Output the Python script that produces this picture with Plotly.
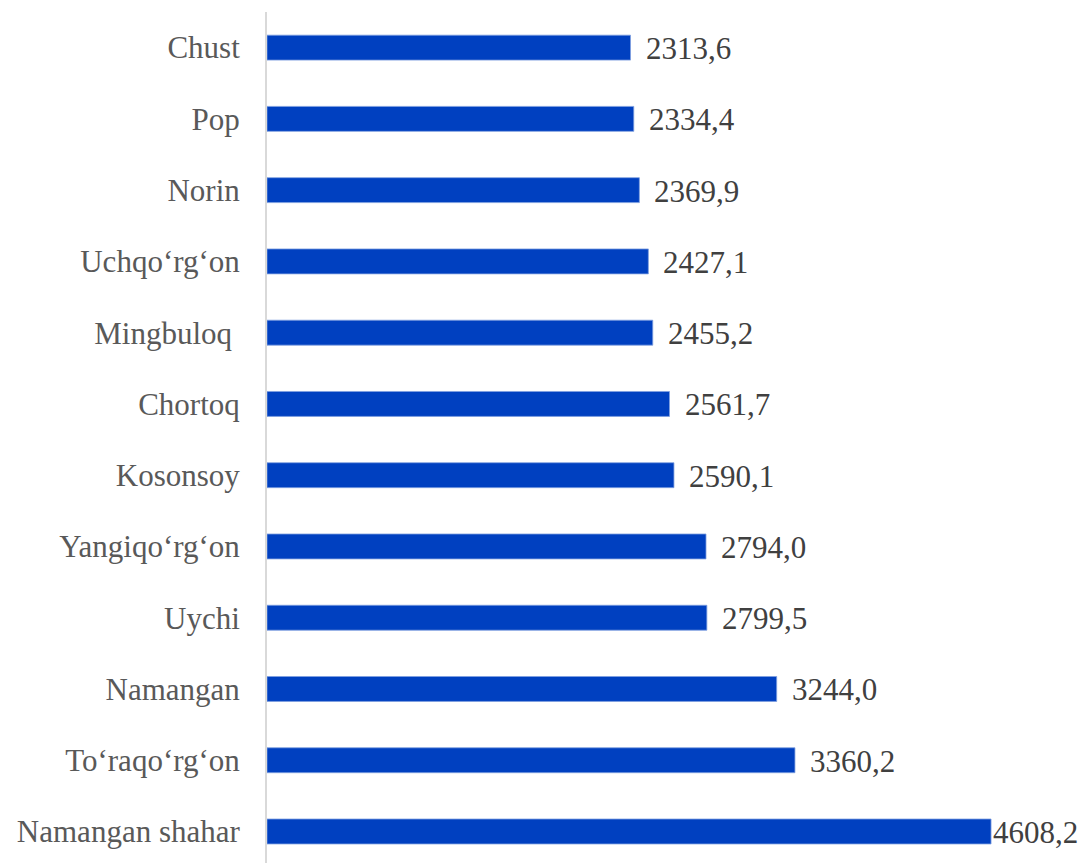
import plotly.graph_objects as go

categories = ["Namangan shahar", "To‘raqo‘rg‘on", "Namangan", "Uychi", "Yangiqo‘rg‘on",
              "Kosonsoy", "Chortoq", "Mingbuloq\u00a0", "Uchqo‘rg‘on", "Norin", "Pop", "Chust"]
values = [4608.2, 3360.2, 3244.0, 2799.5, 2794.0, 2590.1, 2561.7, 2455.2, 2427.1, 2369.9, 2334.4, 2313.6]
value_labels = [f"{v:.1f}".replace(".", ",") for v in values]

W, H = 1079, 863
ML, MR, MT, MB = 267, 0, 12, 0
xmax = 5168
px_per_unit = (W - ML - MR) / xmax
font_size = 31
label_w = 2.75 * font_size

fig = go.Figure()
fig.add_trace(go.Bar(
    y=list(range(len(categories))), x=values, orientation="h",
    marker=dict(color="#0040C0", line=dict(color="#7F9FE0", width=0.8)),
    width=0.35, hoverinfo="skip",
))

annotations = []
for i, (v, t) in enumerate(zip(values, value_labels)):
    end_px = v * px_per_unit
    avail = (W - ML - MR) - end_px - label_w - 3
    shift = min(13, avail)
    annotations.append(dict(
        x=v, y=i, xref="x", yref="y", text=t, showarrow=False,
        xanchor="left", yanchor="middle", xshift=shift, yshift=-1,
        font=dict(family="Liberation Serif", size=font_size, color="#404040"),
    ))

fig.update_layout(
    width=W, height=H,
    margin=dict(l=ML, r=MR, t=MT, b=MB, pad=0),
    paper_bgcolor="white", plot_bgcolor="white",
    showlegend=False,
    annotations=annotations,
    xaxis=dict(range=[0, xmax], visible=False, fixedrange=True),
    yaxis=dict(
        range=[-0.442, 11.5],
        tickmode="array", tickvals=list(range(len(categories))), ticktext=categories,
        showline=True, linecolor="#D9D9D9", linewidth=2,
        showgrid=False, zeroline=False,
        ticks="outside", ticklen=0, ticklabelstandoff=19,
        tickfont=dict(family="Liberation Serif", size=font_size, color="#595959"),
        fixedrange=True,
    ),
)

fig.write_html(
    "out.html",
    config={"displayModeBar": False},
    post_script="document.body.style.margin='0';document.body.style.overflow='hidden';",
)
